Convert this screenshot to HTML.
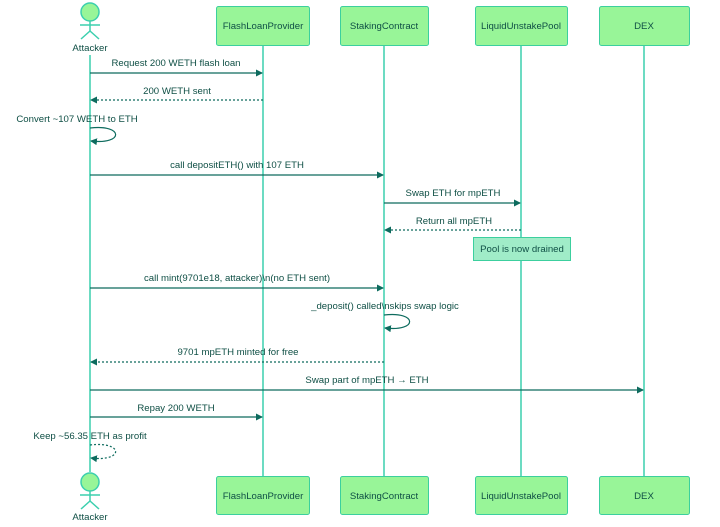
<!DOCTYPE html>
<html><head><meta charset="utf-8"><style>
html,body{margin:0;padding:0;background:#fff;}
svg text{font-family:"Liberation Sans",sans-serif;font-size:9.6px;fill:#0f4f45;}
</style></head><body>
<svg width="720" height="522" viewBox="0 0 720 522" xmlns="http://www.w3.org/2000/svg">
<defs>
<marker id="a" markerWidth="7" markerHeight="7" refX="6" refY="3.5" orient="auto" markerUnits="userSpaceOnUse"><path d="M0,0 L7,3.5 L0,7 z" fill="#0d6b5e"/></marker>
</defs>
<g stroke="#3ccfae" stroke-width="1.5">
<line x1="90" y1="55" x2="90" y2="472"/>
<line x1="263" y1="45" x2="263" y2="476"/>
<line x1="384" y1="45" x2="384" y2="476"/>
<line x1="521" y1="45" x2="521" y2="476"/>
<line x1="644" y1="45" x2="644" y2="476"/>
</g>
<g fill="#98f598" stroke="#3ccf9e" stroke-width="1">
<rect x="216.5" y="6.5" width="93" height="39" rx="2"/>
<rect x="340.5" y="6.5" width="88" height="39" rx="2"/>
<rect x="475.5" y="6.5" width="92" height="39" rx="2"/>
<rect x="599.5" y="6.5" width="90" height="39" rx="2"/>
<rect x="216.5" y="476.5" width="93" height="38" rx="2"/>
<rect x="340.5" y="476.5" width="88" height="38" rx="2"/>
<rect x="475.5" y="476.5" width="92" height="38" rx="2"/>
<rect x="599.5" y="476.5" width="90" height="38" rx="2"/>
</g>
<g text-anchor="middle">
<text x="263" y="29">FlashLoanProvider</text>
<text x="384" y="29">StakingContract</text>
<text x="521" y="29">LiquidUnstakePool</text>
<text x="644" y="29">DEX</text>
<text x="263" y="499">FlashLoanProvider</text>
<text x="384" y="499">StakingContract</text>
<text x="521" y="499">LiquidUnstakePool</text>
<text x="644" y="499">DEX</text>
</g>
<g stroke="#3ccfae" stroke-width="1.5" fill="#98f598">
<circle cx="90" cy="12" r="9"/>
<line x1="90" y1="21" x2="90" y2="31"/><line x1="80" y1="25" x2="100" y2="25"/>
<line x1="90" y1="31" x2="81" y2="39"/><line x1="90" y1="31" x2="99" y2="39"/>
<circle cx="90" cy="482" r="9"/>
<line x1="90" y1="491" x2="90" y2="501"/><line x1="80" y1="495" x2="100" y2="495"/>
<line x1="90" y1="501" x2="81" y2="509"/><line x1="90" y1="501" x2="99" y2="509"/>
</g>
<text x="90" y="51" text-anchor="middle">Attacker</text>
<text x="90" y="520" text-anchor="middle">Attacker</text>
<rect x="473.5" y="237.5" width="97" height="23" fill="#a0ecc8" stroke="#3ccf9e"/>
<text x="522" y="252" text-anchor="middle">Pool is now drained</text>
<g stroke="#0d6b5e" stroke-width="1.2" fill="none" marker-end="url(#a)">
<line x1="90" y1="73" x2="262" y2="73"/>
<line x1="263" y1="100" x2="91" y2="100" stroke-dasharray="2,2"/>
<path d="M90,128 C124,124 124,145 91,141"/>
<line x1="90" y1="175" x2="383" y2="175"/>
<line x1="384" y1="203" x2="520" y2="203"/>
<line x1="521" y1="230" x2="385" y2="230" stroke-dasharray="2,2"/>
<line x1="90" y1="288" x2="383" y2="288"/>
<path d="M384,315 C418,311 418,332 385,328"/>
<line x1="384" y1="362" x2="91" y2="362" stroke-dasharray="2,2"/>
<line x1="90" y1="390" x2="643" y2="390"/>
<line x1="90" y1="417" x2="262" y2="417"/>
<path d="M90,445 C124,441 124,462 91,458" stroke-dasharray="2,2"/>
</g>
<g text-anchor="middle">
<text x="176" y="66">Request 200 WETH flash loan</text>
<text x="177" y="94">200 WETH sent</text>
<text x="77" y="122">Convert ~107 WETH to ETH</text>
<text x="237" y="168">call depositETH() with 107 ETH</text>
<text x="453" y="196">Swap ETH for mpETH</text>
<text x="454" y="224">Return all mpETH</text>
<text x="237" y="281">call mint(9701e18, attacker)\n(no ETH sent)</text>
<text x="385" y="309">_deposit() called\nskips swap logic</text>
<text x="238" y="355">9701 mpETH minted for free</text>
<text x="367" y="383">Swap part of mpETH → ETH</text>
<text x="176" y="411">Repay 200 WETH</text>
<text x="90" y="439">Keep ~56.35 ETH as profit</text>
</g>
</svg>
</body></html>
